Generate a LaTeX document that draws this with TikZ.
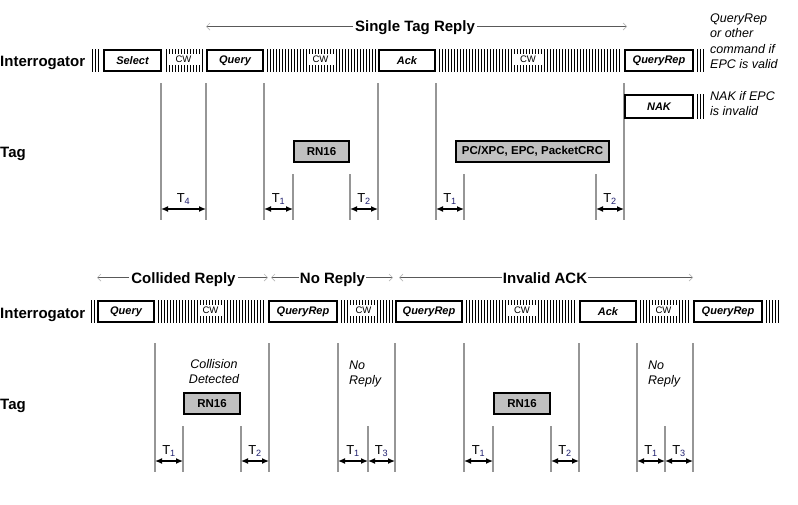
\documentclass[tikz,border=0pt]{standalone}
\usepackage{fontspec}
\setmainfont{Liberation Sans}
\usetikzlibrary{arrows.meta}
\definecolor{vline}{RGB}{150,150,150}
\definecolor{tagfill}{RGB}{192,192,192}
\definecolor{subblue}{RGB}{30,30,110}
\tikzset{
  hatchline/.style={line width=1pt, draw=black},
  cmdbox/.style={draw=black, line width=1.8pt, fill=white, inner sep=0pt, font=\fontsize{11}{13}\selectfont\bfseries\itshape},
  tagbox/.style={draw=black, line width=1.8pt, fill=tagfill, inner sep=0pt, font=\fontsize{11.5}{13}\selectfont\bfseries},
  cwbox/.style={fill=white, inner sep=0pt, minimum height=11pt, font=\fontsize{9.5}{10}\selectfont},
  rowlabel/.style={anchor=base west, inner sep=0pt, font=\fontsize{15}{18}\selectfont\bfseries},
  phasetitle/.style={anchor=base, inner xsep=2pt, inner ysep=0pt, font=\fontsize{15}{18}\selectfont\bfseries},
  phasearrow/.style={draw=gray!70!black, line width=0.7pt, -{Straight Barb[length=3.5pt,width=7pt,color=gray!55]}},
  notetext/.style={anchor=base west, inner sep=0pt, align=left, font=\fontsize{12.5}{15.5}\selectfont\itshape},
  timeline/.style={draw=vline, line width=1.3pt},
  spanarrow/.style={draw=black, line width=1.3pt, {Latex[length=7pt,width=6pt]}-{Latex[length=7pt,width=6pt]}},
  tlabel/.style={anchor=base, inner sep=0pt, font=\fontsize{13}{15}\selectfont},
}
\newcommand{\hatchrun}[4]{%
  \pgfmathtruncatemacro{\hn}{(#2-#1)/3}%
  \foreach \hi in {0,...,\hn}{\draw[hatchline] ({#1+0.5+3*\hi},#3) -- ({#1+0.5+3*\hi},#4);}%
}
\newcommand{\vtl}[4]{%
  \coordinate (#1a) at (#2,#3); \coordinate (#1b) at (#2,#4);
  \draw[timeline] (#1a) -- (#1b);%
}
\newcommand{\tspan}[5]{%
  \coordinate (#1l) at (#2,#4); \coordinate (#1r) at (#3,#4);
  \draw[spanarrow] (#1l) -- (#1r);
  \node[tlabel] (#1t) at ({(#2+#3)/2},{#4-7}) {T{\color{subblue}\textsubscript{#5}}};%
}
\begin{document}
\begin{tikzpicture}[x=1pt,y=-1pt]
\fill[white] (0,0) rectangle (798,504);
\useasboundingbox (0,0) rectangle (798,504);

% ---------------- TOP: Single Tag Reply ----------------
\node[rowlabel] (int1) at (0,66) {Interrogator};
\node[rowlabel] (tag1) at (0,157) {Tag};

\node[phasetitle] (ttl) at (415,31) {Single Tag Reply};
\coordinate (ttlL) at (206,26.5);
\coordinate (ttlR) at (627,26.5);
\draw[phasearrow] (ttl.west |- ttlL) -- (ttlL);
\draw[phasearrow] (ttl.east |- ttlR) -- (ttlR);

% hatch (continuous wave)
\hatchrun{92}{99}{49}{72}
\hatchrun{166}{203}{49}{72}
\hatchrun{267}{375}{49}{72}
\hatchrun{439}{621}{49}{72}
\hatchrun{697}{703}{49}{72}
\hatchrun{697}{703}{94}{119}
\node[cwbox, minimum width=33pt] (cw1) at (183.5,59) {CW};
\node[cwbox, minimum width=27pt] (cw2) at (320.5,59) {CW};
\node[cwbox, minimum width=32pt] (cw3) at (528,59) {CW};

% time lines
\vtl{v1}{161}{83}{220}
\vtl{v2}{206}{83}{220}
\vtl{v3}{264}{83}{220}
\vtl{v4}{378}{83}{220}
\vtl{v5}{436}{83}{220}
\vtl{v6}{624}{83}{220}
\vtl{s1}{293}{174}{220}
\vtl{s2}{350}{174}{220}
\vtl{s3}{464}{174}{220}
\vtl{s4}{596}{174}{220}

% commands
\node[cmdbox, minimum width=57pt, minimum height=21pt] (sel) at (132.5,60.5) {Select};
\node[cmdbox, minimum width=56pt, minimum height=21pt] (qry) at (235,60.5) {Query};
\node[cmdbox, minimum width=56pt, minimum height=21pt] (ack) at (407,60.5) {Ack};
\node[cmdbox, minimum width=68pt, minimum height=21pt] (qrp) at (659,60.5) {QueryRep};
\node[cmdbox, minimum width=68pt, minimum height=23pt] (nak) at (659,106.5) {NAK};

% tag replies
\node[tagbox, minimum width=55pt, minimum height=21pt] (rn1) at (321.5,151.5) {RN16};
\node[tagbox, minimum width=153pt, minimum height=21pt] (pc) at (532.5,151.5) {PC/XPC, EPC, PacketCRC};

% notes (base = last line)
\node[notetext] (n1) at (710,68.5) {QueryRep\\or other\\command if\\EPC is valid};
\node[notetext] (n2) at (710,115.5) {NAK if EPC\\is invalid};

% timing
\tspan{a1}{161}{206}{209}{4}
\tspan{a2}{264}{293}{209}{1}
\tspan{a3}{350}{378}{209}{2}
\tspan{a4}{436}{464}{209}{1}
\tspan{a5}{596}{624}{209}{2}

% ---------------- BOTTOM ----------------
\node[rowlabel] (int2) at (0,318) {Interrogator};
\node[rowlabel] (tag2) at (0,409) {Tag};

\node[phasetitle] (p1) at (183.5,283) {Collided Reply};
\node[phasetitle, inner xsep=1pt] (p2) at (332.5,283) {No Reply};
\node[phasetitle, inner xsep=1pt] (p3) at (545,283) {Invalid ACK};
\coordinate (p1L) at (97,277.5);
\coordinate (p1R) at (268,277.5);
\coordinate (p2L) at (271,277.5);
\coordinate (p2R) at (393,277.5);
\coordinate (p3L) at (399,277.5);
\coordinate (p3R) at (693,277.5);
\draw[phasearrow] (p1.west |- p1L) -- (p1L);
\draw[phasearrow] (p1.east |- p1R) -- (p1R);
\draw[phasearrow] (p2.west |- p2L) -- (p2L);
\draw[phasearrow] (p2.east |- p2R) -- (p2R);
\draw[phasearrow] (p3.west |- p3L) -- (p3L);
\draw[phasearrow] (p3.east |- p3R) -- (p3R);

\hatchrun{91}{94}{300}{323}
\hatchrun{158}{265}{300}{323}
\hatchrun{341}{392}{300}{323}
\hatchrun{466}{576}{300}{323}
\hatchrun{640}{690}{300}{323}
\hatchrun{766}{778}{300}{323}
\node[cwbox, minimum width=23pt] (cw4) at (210.5,310) {CW};
\node[cwbox, minimum width=27pt] (cw5) at (363.5,310) {CW};
\node[cwbox, minimum width=30pt] (cw6) at (522,310) {CW};
\node[cwbox, minimum width=27pt] (cw7) at (663.5,310) {CW};

\vtl{w1}{155}{343}{472}
\vtl{w2}{269}{343}{472}
\vtl{w3}{338}{343}{472}
\vtl{w4}{395}{343}{472}
\vtl{w5}{464}{343}{472}
\vtl{w6}{579}{343}{472}
\vtl{w7}{637}{343}{472}
\vtl{w8}{693}{343}{472}
\vtl{u1}{183}{426}{472}
\vtl{u2}{241}{426}{472}
\vtl{u3}{368}{426}{472}
\vtl{u4}{493}{426}{472}
\vtl{u5}{551}{426}{472}
\vtl{u6}{665}{426}{472}

\node[cmdbox, minimum width=56pt, minimum height=21pt] (bq) at (126,311.5) {Query};
\node[cmdbox, minimum width=68pt, minimum height=21pt] (bqr1) at (303,311.5) {QueryRep};
\node[cmdbox, minimum width=66pt, minimum height=21pt] (bqr2) at (429,311.5) {QueryRep};
\node[cmdbox, minimum width=56pt, minimum height=21pt] (back) at (608,311.5) {Ack};
\node[cmdbox, minimum width=68pt, minimum height=21pt] (bqr3) at (728,311.5) {QueryRep};

\node[tagbox, minimum width=56pt, minimum height=21pt] (rn2) at (212,403.5) {RN16};
\node[tagbox, minimum width=56pt, minimum height=21pt] (rn3) at (522,403.5) {RN16};

\node[notetext, align=center, anchor=base] (n3) at (214,383.5) {Collision\\Detected};
\node[notetext] (n4) at (349,384.5) {No\\Reply};
\node[notetext] (n5) at (648,384.5) {No\\Reply};

\tspan{b1}{155}{183}{461}{1}
\tspan{b2}{241}{269}{461}{2}
\tspan{b3}{338}{368}{461}{1}
\tspan{b4}{368}{395}{461}{3}
\tspan{b5}{464}{493}{461}{1}
\tspan{b6}{551}{579}{461}{2}
\tspan{b7}{637}{665}{461}{1}
\tspan{b8}{665}{693}{461}{3}
\end{tikzpicture}
\end{document}
